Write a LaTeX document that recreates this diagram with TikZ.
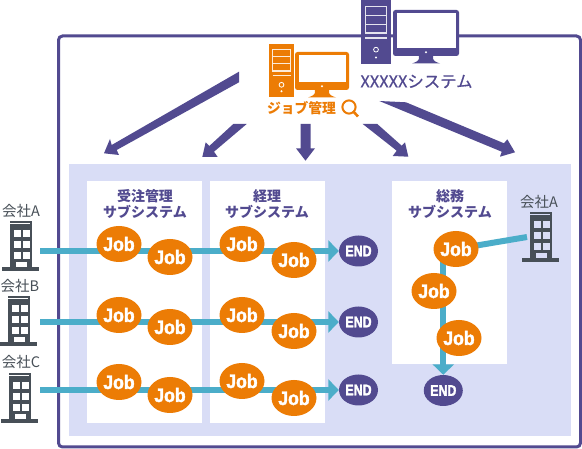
\documentclass[tikz,border=0pt]{standalone}
\usepackage{fontspec}
\setmainfont{Noto Sans CJK JP}
\newfontfamily\jobfont[FakeBold=2,FakeStretch=0.9]{Liberation Sans}
\newfontfamily\endfont[FakeBold=2,FakeStretch=0.8]{Liberation Sans}
\newfontfamily\sysfont[FakeBold=0.6]{Noto Sans CJK JP}
\usetikzlibrary{arrows.meta,shapes.geometric}
\definecolor{pur}{HTML}{524A90}
\definecolor{panel}{HTML}{D9DDF6}
\definecolor{org}{HTML}{EC7C05}
\definecolor{flow}{HTML}{4BADC9}
\definecolor{bld}{HTML}{474F57}
\tikzset{
  x=1pt,y=-1pt,
  jobnode/.style={ellipse,fill=org,minimum width=45pt,minimum height=36pt,inner sep=0pt,text=white,font=\jobfont\bfseries\fontsize{19.5}{19.5}\selectfont},
  endnode/.style={ellipse,fill=pur,minimum width=39pt,minimum height=31pt,inner sep=0pt,text=white,font=\endfont\bfseries\fontsize{15.5}{15.5}\selectfont},
  sysarrow/.style={fill=pur},
  flowline/.style={draw=flow,line width=6pt},
  flowarrow/.style={flowline,-{Triangle[length=10.5pt,width=21pt]}},
  grouplabel/.style={align=center,text=pur,font=\bfseries\fontsize{14}{16}\selectfont,inner sep=0pt},
  corplabel/.style={text=bld,font=\fontsize{14.5}{14.5}\selectfont,inner sep=0pt},
}
% building: #1 left x, #2 top y of the tower, #3 window colour
\newcommand{\buildingicon}[3]{%
  \begin{scope}[shift={(#1,#2)}]
    \fill[bld] (-3,46) rectangle (34,50);
    \fill[bld] (5,0) rectangle (27,46);
    \fill[#3] (5,2) rectangle (25,3.4);
    \foreach \yy in {9.3,20.5,31.5}{
      \fill[#3] (8.5,\yy) rectangle (15.5,\yy+6.5);
      \fill[#3] (18,\yy) rectangle (25,\yy+6.5);
    }
    \fill[#3] (10.5,41) rectangle (22,46);
  \end{scope}}
% computer: #1 colour, #2 tower x, #3 tower y, #4 tower w, #5 tower h, #6 screen x, #7 screen y, #8 screen w, #9 screen h
\newcommand{\pcicon}[9]{%
  \fill[#1] (#2,#3) rectangle ++(#4,#5);
  \draw[white!85!#1,line width=1.3pt] (#2+0.14*#4,#3+0.1*#5) rectangle ++(0.72*#4,0.41*#5);
  \draw[white!85!#1,line width=1.1pt] (#2+0.14*#4,#3+0.235*#5) -- ++(0.72*#4,0);
  \draw[white!85!#1,line width=1.1pt] (#2+0.14*#4,#3+0.375*#5) -- ++(0.72*#4,0);
  \draw[white!85!#1,line width=1.3pt] (#2+0.14*#4,#3+0.59*#5) -- ++(0.72*#4,0);
  \draw[white,line width=0.8pt] (#2+0.5*#4,#3+0.77*#5) circle (2.4pt);
  \fill[white] (#2+0.5*#4,#3+0.89*#5) circle (1.1pt);
  \fill[#1,rounded corners=2.5pt] (#6,#7) rectangle ++(#8,#9);
  \fill[white] (#6+3.5,#7+3.5) rectangle ++(#8-7,#9-11);
  \fill[white] (#6+0.5*#8,#7+#9-3.7) circle (1.1pt);
  \fill[#1] (#6+0.5*#8-7,#7+#9) .. controls (#6+0.5*#8-6,#7+#9+5) and (#6+0.5*#8-10,#7+#9+6) .. (#6+0.5*#8-14,#7+#9+7.5)
     -- (#6+0.5*#8+14,#7+#9+7.5) .. controls (#6+0.5*#8+10,#7+#9+6) and (#6+0.5*#8+6,#7+#9+5) .. (#6+0.5*#8+7,#7+#9) -- cycle;
}
\begin{document}
\begin{tikzpicture}
\useasboundingbox (0,0) rectangle (582,449);
\fill[white] (0,0) rectangle (582,449);
% frame and panels
\draw[pur,line width=3pt,rounded corners=4pt] (58.5,36) rectangle (580.5,447);
\fill[panel] (69,164) rectangle (571,436);
\fill[white] (87,181) rectangle (202,423);
\fill[white] (210,181) rectangle (325,423);
\fill[white] (392,181) rectangle (507,364);
% computers
\pcicon{pur}{361}{0}{30}{64.5}{393}{10}{66}{46}
\pcicon{org}{269}{44}{25}{53}{295}{52}{54}{38}
\node[text=pur,font=\sysfont\fontsize{16.4}{16.4}\selectfont,inner sep=0pt] (xsys) at (416.5,81.5) {XXXXXシステム};
\node[text=org,font=\bfseries\fontsize{13.8}{13.8}\selectfont,inner sep=0pt] (jobm) at (301.5,108.5) {ジョブ管理};
% magnifier
\draw[org,line width=2pt] (349,107) circle (6.6pt);
\draw[org,line width=2.6pt] (353.8,112) -- (358,116.5);
% system arrows
\fill[sysarrow] (239,71.7) -- (239,82.3) -- (116.7,150) -- (119,155) -- (104,153.3) -- (110,139) -- (111.7,145) -- cycle;
\fill[sysarrow] (233.3,124) -- (246.7,124) -- (214,151.7) -- (217.7,157) -- (202.3,157) -- (205.7,142.3) -- (209.3,146) -- cycle;
\fill[sysarrow] (300.7,124) -- (310.7,124) -- (310.7,148.3) -- (315,148.3) -- (305.5,160.7) -- (296,148.3) -- (300.7,148.3) -- cycle;
\fill[sysarrow] (362.7,124) -- (377.3,124) -- (401.7,145.7) -- (405,142.3) -- (408.3,156.7) -- (392.7,156) -- (396.7,150.7) -- cycle;
\fill[sysarrow] (379.3,101) -- (406,102.3) -- (504,143.3) -- (507.3,139.3) -- (515,152.3) -- (500,156.7) -- (501.7,151.7) -- cycle;
% group labels
\node[grouplabel] (g1) at (145,204) {受注管理\\サブシステム};
\node[grouplabel] (g2) at (267,204) {経理\\サブシステム};
\node[grouplabel] (g3) at (450,204.5) {総務\\サブシステム};
% buildings
\buildingicon{5}{221}{white}
\buildingicon{3}{296}{white}
\buildingicon{4}{373}{white}
\buildingicon{525}{212}{panel}
\coordinate (bA) at (40,251);
\coordinate (bB) at (40,322);
\coordinate (bC) at (40,390);
\coordinate (bD) at (527,237);
\node[corplabel] (cA) at (21,211) {会社A};
\node[corplabel] (cB) at (20,286) {会社B};
\node[corplabel] (cC) at (21,362) {会社C};
\node[corplabel] (cD) at (539,202) {会社A};
% END nodes first as anchors
\node[endnode] (e1) at (358.5,251) {END};
\node[endnode] (e2) at (358.5,322) {END};
\node[endnode] (e3) at (358.5,390) {END};
\node[endnode] (e4) at (443.3,390.5) {END};
% flows
\draw[flowarrow] (bA) -- (e1.west);
\draw[flowarrow] (bB) -- (e2.west);
\draw[flowarrow] (bC) -- (e3.west);
\node[jobnode] (j11) at (119,244) {Job};
\node[jobnode] (j12) at (170,257) {Job};
\node[jobnode] (j13) at (242,244) {Job};
\node[jobnode] (j14) at (294,260) {Job};
\node[jobnode] (j21) at (119,315) {Job};
\node[jobnode] (j22) at (170,327) {Job};
\node[jobnode] (j23) at (242,315) {Job};
\node[jobnode] (j24) at (294,331) {Job};
\node[jobnode] (j31) at (119,382) {Job};
\node[jobnode] (j32) at (170,395) {Job};
\node[jobnode] (j33) at (242,381) {Job};
\node[jobnode] (j34) at (294,398) {Job};
\coordinate (vtop) at (443.3,255);
\draw[flowline] (bD) -- (456,249);
\draw[flowarrow] (vtop) -- (e4.north);
\node[jobnode] (j41) at (456,249) {Job};
\node[jobnode] (j42) at (434,291) {Job};
\node[jobnode] (j43) at (459,338) {Job};
\end{tikzpicture}
\end{document}
